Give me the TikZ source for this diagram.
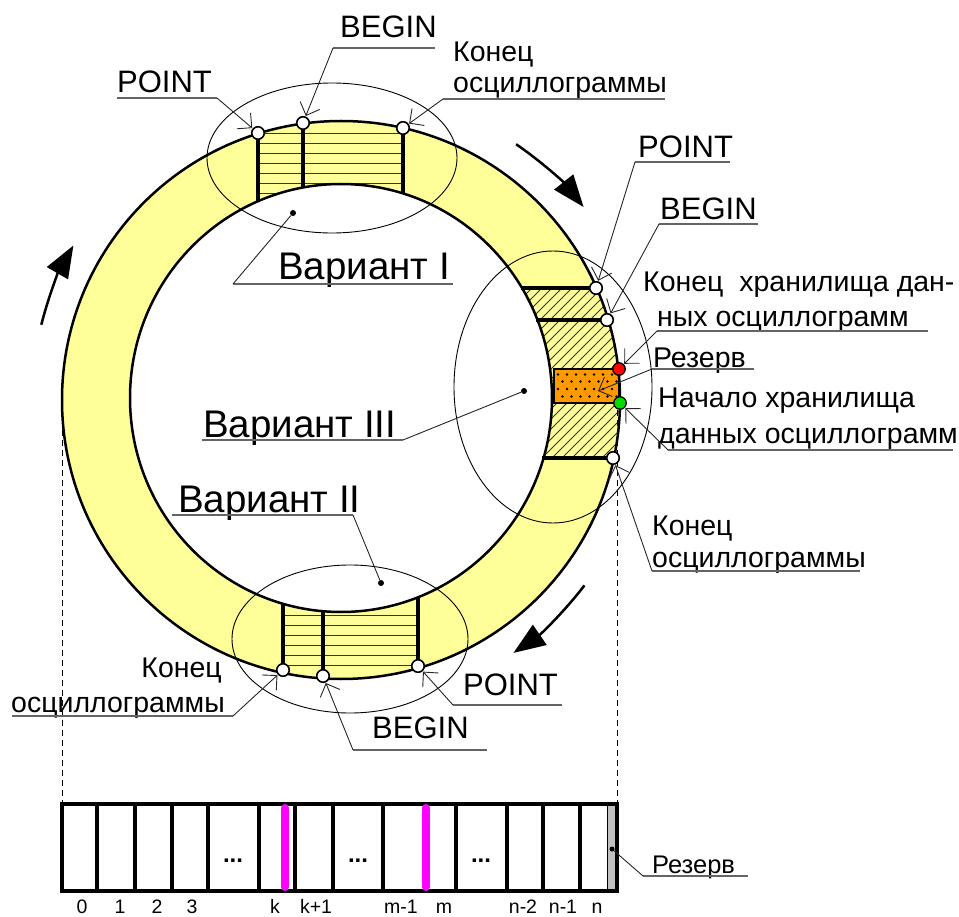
\documentclass[tikz,border=0pt]{standalone}
\usepackage{fontspec}
\setmainfont{Liberation Sans}
\usetikzlibrary{arrows.meta,calc}
\definecolor{ringY}{RGB}{255,255,153}
\definecolor{boxO}{RGB}{255,153,0}
\definecolor{dotG}{RGB}{0,220,0}
\definecolor{dotR}{RGB}{255,0,0}
\definecolor{ulc}{RGB}{100,100,100}
\definecolor{mag}{RGB}{255,0,255}
\definecolor{stripc}{RGB}{192,192,192}
\begin{document}
\begin{tikzpicture}[x=1pt,y=-1pt,
 lbl/.style={inner sep=0pt, anchor=base west, font=\fontsize{28.5}{34}\selectfont},
 lblbig/.style={inner sep=0pt, anchor=base west, font=\fontsize{38.5}{46}\selectfont},
 lblcap/.style={inner sep=0pt, anchor=base west, font=\fontsize{31}{37}\selectfont},
 lblnum/.style={inner sep=0pt, anchor=base, font=\fontsize{19.5}{23}\selectfont},
 lblsmall/.style={inner sep=0pt, anchor=base west, font=\fontsize{25.5}{30}\selectfont},
 ellip/.style={inner sep=0pt, anchor=base, font=\bfseries\fontsize{24}{28}\selectfont},
 uline/.style={draw=ulc, line width=1.2pt},
 leader/.style={draw=black!85, line width=0.9pt, -{Straight Barb[length=10.6pt,width=21pt,line width=0.9pt]}, shorten >=0.5pt},
 pointer/.style={draw=black!85, line width=0.9pt},
 wdot/.style={circle, draw=black, fill=white, line width=1.6pt, minimum size=12.5pt, inner sep=0pt},
 cdot/.style={circle, draw=black, line width=1.3pt, minimum size=12.5pt, inner sep=0pt},
 bdot/.style={circle, fill=black, minimum size=6pt, inner sep=0pt},
 seg/.style={line width=3.5pt},
 hatchl/.style={line width=0.8pt, draw=black!80},
 thinell/.style={line width=0.9pt},
 rot/.style={line width=2.5pt, -{Triangle[length=32pt,width=24pt]}},
 guide/.style={line width=0.9pt, dash pattern=on 6pt off 4pt},
]
\useasboundingbox (0,0) rectangle (959,917);
\coordinate (C) at (341,400);
% ring fill
\fill[ringY] (C) circle[radius=279];
% hatching variant I
\begin{scope}
\clip (258,100) rectangle (403,260);
\clip (C) circle[radius=279];
\foreach \yy in {133.5,143.5,...,253.5} \draw[hatchl] (250,\yy) -- (410,\yy);
\end{scope}
% hatching variant II
\begin{scope}
\clip (283,580) rectangle (418,700);
\clip (C) circle[radius=279];
\foreach \yy in {615,625,...,665} \draw[hatchl] (275,\yy) -- (425,\yy);
\end{scope}
% hatching variant III
\begin{scope}
\clip (480,288) rectangle (640,458);
\clip (C) circle[radius=279];
\foreach \cc in {780,790,...,1110} \draw[hatchl] (\cc-500,500) -- (\cc-250,250);
\end{scope}
% inner white
\fill[white] (341,398) ellipse[x radius=211, y radius=214];
% orange reserve box
\filldraw[fill=boxO, draw=black, line width=2.5pt] (554,369) rectangle (619,403);
\foreach \xx in {558,567,...,612} {\fill (\xx,374.5) circle[radius=1.3]; \fill (\xx,389) circle[radius=1.3];}
\foreach \xx in {562.5,571.5,...,616.5} {\fill (\xx,381.5) circle[radius=1.3]; \fill (\xx,396.5) circle[radius=1.3];}
% segment coordinates
\coordinate (cTP) at (258,133); \coordinate (iTP) at (258,202);
\coordinate (cTB) at (303,123); \coordinate (iTB) at (303,188);
\coordinate (cTK) at (403,128); \coordinate (iTK) at (403,194);
\coordinate (cBK) at (283,670); \coordinate (iBK) at (283,603);
\coordinate (cBB) at (323,676); \coordinate (iBB) at (323,611);
\coordinate (cBP) at (418,666); \coordinate (iBP) at (418,597);
\coordinate (cRP) at (596,288); \coordinate (iRP) at (521,288);
\coordinate (cRB) at (607,320); \coordinate (iRB) at (536,320);
\coordinate (cRK) at (613,458); \coordinate (iRK) at (542,458);
\foreach \a in {TP,TB,TK,BK,BB,BP,RP,RB,RK} \draw[seg] (c\a) -- (i\a);
% ring outlines
\draw[line width=2.5pt] (C) circle[radius=279];
\draw[line width=2.5pt] (341,398) ellipse[x radius=211, y radius=214];
% thin ellipses
\draw[thinell] (332,158) ellipse[x radius=125, y radius=75];
\draw[thinell] (553,387) ellipse[x radius=99, y radius=136];
\draw[thinell] (350,639) ellipse[x radius=118, y radius=74];
% rotation arrows
\draw[rot] ($(C)+(-55.6:310)$) arc[start angle=-55.6, end angle=-38.5, radius=310];
\draw[rot] ($(C)+(-165.9:309)$) arc[start angle=-165.9, end angle=-150, radius=309];
\draw[rot] ($(C)+(37.3:306)$) arc[start angle=37.3, end angle=55.6, radius=308];
% dashed guides
\coordinate (gL1) at (62,430); \coordinate (gL2) at (62,804);
\coordinate (gR1) at (617.5,410); \coordinate (gR2) at (617.5,804);
\draw[guide] (gL1) -- (gL2);
\draw[guide] (gR1) -- (gR2);
% dots
\node[wdot] (tP) at (cTP) {};
\node[wdot] (tB) at (cTB) {};
\node[wdot] (tK) at (cTK) {};
\node[wdot] (bK) at (cBK) {};
\node[wdot] (bB) at (cBB) {};
\node[wdot] (bP) at (cBP) {};
\node[wdot] (rP) at (cRP) {};
\node[wdot] (rB) at (cRB) {};
\node[wdot] (rK) at (cRK) {};
\node[cdot, fill=dotR] (rR) at (619,369) {};
\node[cdot, fill=dotG] (rG) at (620,403) {};
\node[bdot] (vd1) at (293,213) {};
\node[bdot] (vd2) at (381,583) {};
\node[bdot] (vd3) at (524,391) {};
\coordinate (rzIn) at (598,391);
% ---- labels and leaders ----
% top POINT
\node[lblcap] (tPointT) at (117,93) {POINT};
\coordinate (tPa) at (117,98); \coordinate (tPb) at (217,98);
\draw[uline] (tPa) -- (tPb); \draw[leader] (tPb) -- (tP);
% top BEGIN
\node[lblcap] (tBeginT) at (340,38) {BEGIN};
\coordinate (tBa) at (333,48); \coordinate (tBb) at (435,48);
\draw[uline] (tBa) -- (tBb); \draw[leader] (tBa) -- (tB);
% top Konets
\node[lbl] (tK1) at (453,62) {Конец};
\node[lbl] (tK2) at (453,93) {осциллограммы};
\coordinate (tKa) at (443,99); \coordinate (tKb) at (665,99);
\draw[uline] (tKa) -- (tKb); \draw[leader] (tKa) -- (tK);
% Variant I
\node[lblbig] (v1T) at (278,280) {Вариант I};
\coordinate (v1a) at (233,284); \coordinate (v1b) at (453,284);
\draw[uline] (v1a) -- (v1b); \draw[pointer] (v1a) -- (vd1);
% right POINT
\node[lblcap] (rPointT) at (638,158) {POINT};
\coordinate (rPa) at (635,162); \coordinate (rPb) at (730,162);
\draw[uline] (rPa) -- (rPb); \draw[leader] (rPa) -- (rP);
% right BEGIN
\node[lblcap] (rBeginT) at (660,220) {BEGIN};
\coordinate (rBa) at (659,224); \coordinate (rBb) at (758,224);
\draw[uline] (rBa) -- (rBb); \draw[leader] (rBa) -- (rB);
% end of storage
\node[lbl] (es1) at (643,292) {Конец\ \ хранилища дан-};
\node[lbl] (es2) at (657,327) {ных осциллограмм};
\coordinate (esa) at (657,331); \coordinate (esb) at (928,331);
\draw[uline] (esa) -- (esb); \draw[leader] (esa) -- (rR);
% reserve
\node[lbl] (rzT) at (653,367.5) {Резерв};
\coordinate (rza) at (652,369); \coordinate (rzb) at (754,369);
\draw[uline] (rza) -- (rzb); \draw[leader, shorten >=0pt] (rza) -- (rzIn);
% start of storage
\node[lbl] (ss1) at (658,407) {Начало хранилища};
\node[lbl] (ss2) at (658,443) {данных осциллограмм};
\coordinate (ssa) at (668,450); \coordinate (ssb) at (953,450);
\draw[uline] (ssa) -- (ssb); \draw[leader] (ssa) -- (rG);
% right Konets
\node[lbl] (rK1) at (652,535) {Конец};
\node[lbl] (rK2) at (652,567) {осциллограммы};
\coordinate (rKa) at (652,571); \coordinate (rKb) at (860,571);
\draw[uline] (rKa) -- (rKb); \draw[leader] (rKa) -- (rK);
% Variant III
\node[lblbig] (v3T) at (203,437) {Вариант III};
\coordinate (v3a) at (202,440); \coordinate (v3b) at (403,440);
\draw[uline] (v3a) -- (v3b); \draw[pointer] (v3b) -- (vd3);
% Variant II
\node[lblbig] (v2T) at (178,512) {Вариант II};
\coordinate (v2a) at (172,515); \coordinate (v2b) at (353,515);
\draw[uline] (v2a) -- (v2b); \draw[pointer] (v2b) -- (vd2);
% bottom Konets
\node[lbl, anchor=base east] (bK1) at (222,677) {Конец};
\node[lbl] (bK2) at (11,712) {осциллограммы};
\coordinate (bKa) at (12,716); \coordinate (bKb) at (233,716);
\draw[uline] (bKa) -- (bKb); \draw[leader] (bKb) -- (bK);
% bottom BEGIN
\node[lblcap] (bBeginT) at (372,738) {BEGIN};
\coordinate (bBa) at (353,750); \coordinate (bBb) at (487,750);
\draw[uline] (bBa) -- (bBb); \draw[leader] (bBa) -- (bB);
% bottom POINT
\node[lblcap] (bPointT) at (463,695) {POINT};
\coordinate (bPa) at (453,705); \coordinate (bPb) at (562,705);
\draw[uline] (bPa) -- (bPb); \draw[leader] (bPa) -- (bP);
% ---- storage bar ----
\foreach \xx in {97,135,172,208,259,295,333,383,456,507,543,580}
  \draw[line width=3.5pt] (\xx,804) -- (\xx,891);
\filldraw[fill=stripc, draw=black, line width=0.8pt] (607,804) rectangle (617,891);
\draw[line width=4pt] (62,804) rectangle (617,891);
\draw[mag, line width=8pt, line cap=round] (285,808) -- (285,887);
\draw[mag, line width=8pt, line cap=round] (426,808) -- (426,887);
\node[ellip] (e1) at (233,862) {...};
\node[ellip] (e2) at (358,862) {...};
\node[ellip] (e3) at (481,862) {...};
\node[bdot, minimum size=5pt] (sdot) at (612,849) {};
\node[lblsmall] (brzT) at (652,873) {Резерв};
\coordinate (brza) at (643,876); \coordinate (brzb) at (748,876);
\draw[uline] (brza) -- (brzb); \draw[pointer] (brza) -- (sdot);
% cell indices
\node[lblnum] (n0) at (82,913.5) {0};
\node[lblnum] (n1) at (120,913.5) {1};
\node[lblnum] (n2) at (157,913.5) {2};
\node[lblnum] (n3) at (192,913.5) {3};
\node[lblnum] (nk) at (275,913.5) {k};
\node[lblnum] (nk1) at (316,913.5) {k+1};
\node[lblnum] (nm1) at (401,913.5) {m-1};
\node[lblnum] (nm) at (444,913.5) {m};
\node[lblnum] (nn2) at (523,913.5) {n-2};
\node[lblnum] (nn1) at (563,913.5) {n-1};
\node[lblnum] (nn) at (597,913.5) {n};
\end{tikzpicture}
\end{document}
